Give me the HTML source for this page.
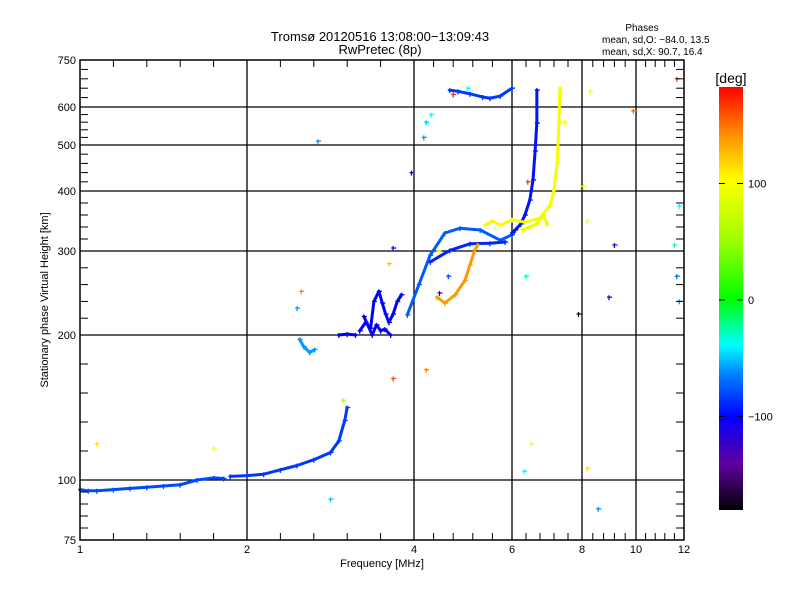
<!DOCTYPE html>
<html><head><meta charset="utf-8"><style>
body{margin:0;background:#fff}
svg{display:block;font-family:"Liberation Sans",sans-serif}
</style></head><body>
<svg id="c" width="800" height="600" xmlns="http://www.w3.org/2000/svg">
<defs><linearGradient id="cb" x1="0" y1="1" x2="0" y2="0">
<stop offset="0" stop-color="#000"/><stop offset="0.11" stop-color="#6000a0"/><stop offset="0.22" stop-color="#0000ff"/><stop offset="0.32" stop-color="#0080ff"/><stop offset="0.39" stop-color="#00ffff"/><stop offset="0.5" stop-color="#00ff00"/><stop offset="0.64" stop-color="#a0ff00"/><stop offset="0.78" stop-color="#ffff00"/><stop offset="0.89" stop-color="#ff8c00"/><stop offset="1" stop-color="#ff0000"/></linearGradient></defs>
<g id="grid"></g>
<g id="marks"></g>
<rect x="80" y="60" width="604" height="480" fill="none" stroke="#000" stroke-width="1.5"/>
<g id="ticks"></g>
<text x="380" y="41" font-size="13" text-anchor="middle">Tromsø 20120516 13:08:00−13:09:43</text>
<text x="380" y="54" font-size="13" text-anchor="middle">RwPretec (8p)</text>
<text x="642" y="31" font-size="10" text-anchor="middle">Phases</text>
<text x="602" y="43" font-size="10">mean, sd,O: −84.0, 13.5</text>
<text x="602" y="55" font-size="10">mean, sd,X:  90.7, 16.4</text>
<text x="382" y="567" font-size="11" text-anchor="middle">Frequency [MHz]</text>
<text transform="translate(48,300) rotate(-90)" font-size="11" text-anchor="middle">Stationary phase Virtual Height [km]</text>
<rect x="719" y="87" width="24" height="423" fill="url(#cb)"/>
<text x="731" y="83" font-size="14" text-anchor="middle">[deg]</text>
<g id="cbt"></g>
</svg>
<script>
const xTickLabels=[1,2,4,6,8,10,12];
const xTickPx=[80,247,414,512,582,636,684];
const yTickLabels=[75,100,200,300,400,500,600,750];
const yTickPx=[540,480,335,251,191,145,107,60];
const cbLabels=[100,0,-100];
// traces: [freq MHz, height km]
const traceO1=[[1,96],[1.05,95.5],[1.1,95.5],[1.2,96],[1.3,96.5],[1.4,97],[1.5,97.5],[1.6,98],[1.7,100],[1.8,101.5],[1.86,101]];
const traceO2=[[1.9,102.5],[2.0,103],[2.2,104],[2.4,107],[2.6,110],[2.8,114],[3.0,119],[3.1,127],[3.17,141],[3.2,150]];
const traceBlob=[[2.63,197],[2.68,192],[2.75,188],[2.81,190]];
const traceO3=[[3.1,200],[3.2,201],[3.3,200]];
const traceCluster=[[3.35,205],[3.42,215],[3.48,208],[3.52,240],[3.58,252],[3.62,238],[3.66,225],[3.7,215],[3.75,225],[3.8,240],[3.85,248]];
const traceCluster2=[[3.4,222],[3.5,200],[3.55,212],[3.6,205],[3.65,207],[3.72,200]];
const traceO4=[[3.92,224],[4.1,260],[4.33,295],[4.63,330],[4.94,338],[5.35,335],[5.76,318],[6.0,327]];
const traceO5=[[4.33,287],[4.73,301],[5.14,312],[5.55,313],[5.86,315]];
const traceO6=[[6.0,330],[6.09,335],[6.25,345],[6.37,360],[6.51,385],[6.6,424],[6.66,487],[6.71,558],[6.71,654]];
const traceTop=[[4.73,654],[4.9,650],[5.14,642],[5.4,632],[5.55,628],[5.76,635],[6.0,660]];
const traceX1=[[4.47,245],[4.63,238],[4.84,248],[5.04,265],[5.14,283],[5.24,302],[5.3,310]];
const traceX2=[[5.45,343],[5.6,350],[5.76,343],[6.0,352],[6.37,348],[6.8,355],[7.09,377],[7.2,402],[7.29,461],[7.34,558],[7.37,660]];
const traceX3=[[6.3,335],[6.5,340],[6.7,345],[6.9,360],[7.0,345]];
const phaseO=-95, phaseBlob=-60, phaseX1=135, phaseX2=95;
const scatter=[[2.85,510,-60],[4.2,520,-60],[4.25,560,-50],[3.97,440,-110],[4.8,640,170],[5.1,660,-40],[4.35,580,-40],[6.45,420,160],[8.05,410,100],[11.7,690,160],[11.8,375,-40],[11.6,310,-30],[11.7,270,-70],[11.8,240,-60],[9.2,310,-110],[9.0,245,-120],[8.2,350,100],[7.9,225,-170],[8.2,108,110],[8.6,88,-60],[9.9,590,150],[7.5,560,100],[8.3,650,100],[6.4,270,-30],[6.55,125,100],[6.35,106,-40],[3.0,92,-50],[1.1,125,110],[1.8,122,100],[2.6,232,-60],[2.65,252,140],[3.75,170,160],[4.25,176,140],[4.7,270,-80],[4.5,300,100],[3.7,285,120],[3.75,305,-110],[3.15,155,60],[4.52,250,-120]];

function interp(v,ks,ps){for(let i=0;i<ks.length-1;i++){if(v<=ks[i+1]||i==ks.length-2){return ps[i]+(v-ks[i])/(ks[i+1]-ks[i])*(ps[i+1]-ps[i]);}}}
const X=f=>interp(f,xTickLabels,xTickPx);
const Y=h=>interp(h,yTickLabels,yTickPx);
const stops=[[-180,[0,0,0]],[-140,[96,0,160]],[-100,[0,0,255]],[-65,[0,128,255]],[-40,[0,255,255]],[0,[0,255,0]],[50,[160,255,0]],[100,[255,255,0]],[140,[255,140,0]],[180,[255,0,0]]];
function col(p){for(let i=0;i<stops.length-1;i++){if(p<=stops[i+1][0]){const t=(p-stops[i][0])/(stops[i+1][0]-stops[i][0]);const a=stops[i][1],b=stops[i+1][1];return 'rgb('+a.map((v,k)=>Math.round(v+t*(b[k]-v))).join(',')+')';}}return 'rgb(255,0,0)';}
const NS='http://www.w3.org/2000/svg';
function mk(tag,attrs,parent){const e=document.createElementNS(NS,tag);for(const k in attrs)e.setAttribute(k,attrs[k]);parent.appendChild(e);return e;}
const grid=document.getElementById('grid'),ticks=document.getElementById('ticks'),marks=document.getElementById('marks');
xTickLabels.forEach((v,i)=>{const x=X(v);
 if(i>0&&i<xTickLabels.length-1){const l=mk('line',{x1:x,x2:x,y1:60,y2:540,stroke:'#000','stroke-width':1.3},grid);}
 const t=mk('text',{x:x,y:553,'font-size':11,'text-anchor':'middle'},ticks);t.textContent=v;});
yTickLabels.forEach((v,i)=>{const y=Y(v);
 if(i>0&&i<yTickLabels.length-1){const l=mk('line',{x1:80,x2:684,y1:y,y2:y,stroke:'#000','stroke-width':1.3},grid);}
 const t=mk('text',{x:76,y:y+4,'font-size':11,'text-anchor':'end'},ticks);t.textContent=v;});
// minor ticks
for(let i=0;i<xTickLabels.length-1;i++){const a=xTickLabels[i],b=xTickLabels[i+1];const n=5;for(let k=1;k<n;k++){const x=X(a+(b-a)*k/n);mk('line',{x1:x,x2:x,y1:540,y2:533,stroke:'#000'},ticks);mk('line',{x1:x,x2:x,y1:60,y2:67,stroke:'#000'},ticks);}}
for(let i=0;i<yTickLabels.length-1;i++){const a=yTickLabels[i],b=yTickLabels[i+1];const n=5;for(let k=1;k<n;k++){const y=Y(a+(b-a)*k/n);mk('line',{x1:80,x2:88,y1:y,y2:y,stroke:'#000'},ticks);mk('line',{x1:676,x2:684,y1:y,y2:y,stroke:'#000'},ticks);}}
function plus(x,y,c,name){const g=mk('path',{d:`M${x-2} ${y}h5M${x} ${y-2}v5`,stroke:c,'stroke-width':1.3},marks);}
function trace(pts,ph,name){const c=col(ph);const p=mk('polyline',{points:pts.map(q=>X(q[0])+','+Y(q[1])).join(' '),fill:'none',stroke:c,'stroke-width':3,'stroke-linejoin':'round','stroke-linecap':'round'},marks);pts.forEach(q=>plus(X(q[0]),Y(q[1]),c,name+'-point'));}
trace(traceO1,-80,'o-trace-low');trace(traceO2,-85,'o-trace-e');trace(traceBlob,phaseBlob,'o-trace-blob');trace(traceO3,-100,'o-trace-f1');
trace(traceCluster,-100,'o-trace-cluster');trace(traceCluster2,-105,'o-trace-cluster2');
trace(traceO4,-75,'o-trace-upper');trace(traceO5,-90,'o-trace-lower');trace(traceO6,phaseO,'o-trace-f2');trace(traceTop,-85,'o-trace-top');
trace(traceX1,phaseX1,'x-trace-f1');trace(traceX2,phaseX2,'x-trace-f2');trace(traceX3,90,'x-trace-spread');
scatter.forEach(s=>plus(X(s[0]),Y(s[1]),col(s[2]),'scatter-point'));
const cbt=document.getElementById('cbt');
cbLabels.forEach(v=>{const y=300-v*1.165;mk('line',{x1:719,x2:725,y1:y,y2:y,stroke:'#000'},cbt);mk('line',{x1:737,x2:743,y1:y,y2:y,stroke:'#000'},cbt);const t=mk('text',{x:748,y:y+4,'font-size':11},cbt);t.textContent=v<0?'−'+(-v):v;});
</script>
</body></html>
